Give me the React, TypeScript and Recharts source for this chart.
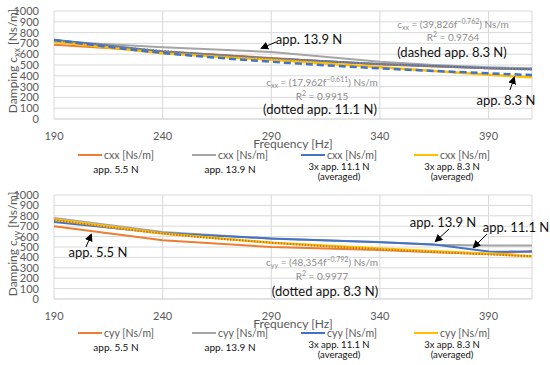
import { CartesianGrid, Line, LineChart, XAxis, YAxis } from "recharts";

const freq = [190, 240, 290, 340, 365, 390, 410];

// c_xx [Ns/m]
const cxx55 = [688, 625, 565, 505, 485, 470, 462];
const cxx139 = [720, 665, 620, 530, 500, 480, 470];
const cxx111 = [735, 625, 560, 510, 490, 470, 460];
const cxx83 = [715, 608, 548, 480, 445, 410, 386];
const cxxFit111 = [728, 631, 562, 510, 488, 469, 457];
const cxxFit83 = [731, 612, 530, 469, 445, 423, 407];

// c_yy [Ns/m]
const cyy55 = [700, 565, 500, 470, 450, 432, 462];
const cyy139 = [780, 645, 580, 548, 522, 515, 515];
const cyy111 = [740, 635, 582, 545, 524, 456, 455];
const cyy83 = [765, 630, 540, 485, 458, 435, 410];
const cyyFit83 = [758, 630, 542, 478, 452, 429, 412];

const xTicks = [190, 240, 290, 340, 390];
const yTicks = [0, 100, 200, 300, 400, 500, 600, 700, 800, 900, 1000];

const ORANGE = "#ED7D31";
const GREY = "#A5A5A5";
const BLUE = "#4472C4";
const YELLOW = "#FFC000";
const FONT = "Lato, 'Liberation Sans', sans-serif";
const AXIS_TEXT = "#595959";

const topRows = freq.map((f, i) => ({
  f,
  o: cxx55[i],
  g: cxx139[i],
  b: cxx111[i],
  y: cxx83[i],
  dot: cxxFit111[i],
  dash: cxxFit83[i],
}));

const bottomRows = freq.map((f, i) => ({
  f,
  o: cyy55[i],
  g: cyy139[i],
  b: cyy111[i],
  y: cyy83[i],
  dot: cyyFit83[i],
}));

const legendEntries = [
  { color: ORANGE, sub: ["app. 5.5 N"] },
  { color: GREY, sub: ["app. 13.9 N"] },
  { color: BLUE, sub: ["3x app. 11.1 N", "(averaged)"] },
  { color: YELLOW, sub: ["3x app. 8.3 N", "(averaged)"] },
];
const legendLefts = [60, 174, 283, 396];

function Legend({ top, name }: { top: number; name: string }) {
  return (
    <>
      {legendEntries.map((entry, i) => (
        <div
          key={i}
          style={{
            position: "absolute",
            left: legendLefts[i],
            top,
            width: 112,
            display: "flex",
            flexDirection: "column",
            alignItems: "center",
            fontFamily: FONT,
          }}
        >
          <div style={{ display: "flex", alignItems: "center", height: 12 }}>
            <div style={{ width: 24, height: 2, background: entry.color, marginRight: 2 }} />
            <span style={{ fontSize: 10.5, color: AXIS_TEXT, whiteSpace: "nowrap" }}>{name} [Ns/m]</span>
          </div>
          <div
            style={{
              marginTop: entry.sub.length > 1 ? 1 : 2,
              fontSize: entry.sub.length > 1 ? 9.5 : 10,
              lineHeight: entry.sub.length > 1 ? "9.5px" : "12px",
              color: "#111",
              textAlign: "center",
              whiteSpace: "nowrap",
            }}
          >
            {entry.sub.map((s) => (
              <div key={s}>{s}</div>
            ))}
          </div>
        </div>
      ))}
    </>
  );
}

function Axes() {
  return (
    <>
      <CartesianGrid stroke="#d9d9d9" strokeWidth={1} />
      <XAxis
        dataKey="f"
        type="number"
        domain={[190, 410]}
        ticks={xTicks}
        tick={{ fontSize: 11, fill: AXIS_TEXT, fontFamily: FONT }}
        tickLine={false}
        axisLine={{ stroke: "#d9d9d9" }}
        tickMargin={7}
        height={31}
      />
      <YAxis
        domain={[0, 1000]}
        ticks={yTicks}
        interval={0}
        width={54}
        tick={{ fontSize: 11, fill: AXIS_TEXT, fontFamily: FONT }}
        tickLine={false}
        axisLine={false}
        tickMargin={9}
      />
    </>
  );
}

function Arrow({ x1, y1, x2, y2 }: { x1: number; y1: number; x2: number; y2: number }) {
  return <line x1={x1} y1={y1} x2={x2} y2={y2} stroke="#000" strokeWidth={1} markerEnd="url(#arrowHead)" />;
}

const eqStyle = { fontSize: 10, fill: "#8c8c8c", fontFamily: FONT } as const;
const noteStyle = { fontSize: 13, fill: "#111", fontFamily: FONT } as const;
const titleStyle = { fontSize: 12, fill: AXIS_TEXT, fontFamily: FONT } as const;

export default function App() {
  return (
    <div style={{ position: "absolute", left: 0, top: 0, width: 550, height: 365, background: "#fff" }}>
      <div style={{ position: "absolute", left: 0, top: 0 }}>
        <LineChart width={550} height={150} data={topRows} margin={{ top: 11, right: 18, bottom: 0, left: 0 }}>
          {Axes()}
          <Line dataKey="o" stroke={ORANGE} strokeWidth={2} dot={false} isAnimationActive={false} />
          <Line dataKey="g" stroke={GREY} strokeWidth={2} dot={false} isAnimationActive={false} />
          <Line dataKey="b" stroke={BLUE} strokeWidth={2} dot={false} isAnimationActive={false} />
          <Line dataKey="y" stroke={YELLOW} strokeWidth={2.5} dot={false} isAnimationActive={false} />
          <Line type="monotone" dataKey="dot" stroke="#9a8466" strokeWidth={2} strokeDasharray="1.5 1.5" dot={false} isAnimationActive={false} />
          <Line type="monotone" dataKey="dash" stroke={BLUE} strokeWidth={2.5} strokeDasharray="7 4" dot={false} isAnimationActive={false} />
        </LineChart>
      </div>
      <div style={{ position: "absolute", left: 0, top: 180 }}>
        <LineChart width={550} height={150} data={bottomRows} margin={{ top: 15, right: 18, bottom: 0, left: 0 }}>
          {Axes()}
          <Line dataKey="o" stroke={ORANGE} strokeWidth={2} dot={false} isAnimationActive={false} />
          <Line dataKey="g" stroke={GREY} strokeWidth={2} dot={false} isAnimationActive={false} />
          <Line dataKey="b" stroke={BLUE} strokeWidth={2} dot={false} isAnimationActive={false} />
          <Line dataKey="y" stroke={YELLOW} strokeWidth={2.5} dot={false} isAnimationActive={false} />
          <Line type="monotone" dataKey="dot" stroke="#c0782a" strokeWidth={2} strokeDasharray="1.5 1.5" dot={false} isAnimationActive={false} />
        </LineChart>
      </div>

      <Legend top={149} name="cxx" />
      <Legend top={327} name="cyy" />

      <svg width={550} height={365} style={{ position: "absolute", left: 0, top: 0, pointerEvents: "none" }}>
        <defs>
          <marker id="arrowHead" markerWidth="8" markerHeight="8" refX="6" refY="4" orient="auto" markerUnits="userSpaceOnUse">
            <path d="M0,0 L8,4 L0,8 z" fill="#000" />
          </marker>
        </defs>

        {/* axis titles */}
        <text x={293} y={148} textAnchor="middle" style={titleStyle}>Frequency [Hz]</text>
        <text x={293} y={328} textAnchor="middle" style={titleStyle}>Frequency [Hz]</text>
        <text transform="translate(17,61) rotate(-90)" textAnchor="middle" style={titleStyle}>
          Damping c<tspan fontSize={9} dy={3}>xx</tspan>
          <tspan dy={-3}> [Ns/m]</tspan>
        </text>
        <text transform="translate(17,244) rotate(-90)" textAnchor="middle" style={titleStyle}>
          Damping c<tspan fontSize={9} dy={3}>yy</tspan>
          <tspan dy={-3}> [Ns/m]</tspan>
        </text>

        {/* top annotations */}
        <text x={309} y={44} textAnchor="middle" style={noteStyle}>app. 13.9 N</text>
        <Arrow x1={276} y1={42} x2={262} y2={48} />
        <text x={453} y={28} textAnchor="middle" style={eqStyle}>
          c<tspan fontSize={7} dy={2}>xx</tspan>
          <tspan dy={-2}> = (39,826f</tspan>
          <tspan fontSize={7} dy={-4}>−0.762</tspan>
          <tspan dy={4}>) Ns/m</tspan>
        </text>
        <text x={453} y={41} textAnchor="middle" style={eqStyle}>
          R<tspan fontSize={7} dy={-4}>2</tspan>
          <tspan dy={4}> = 0.9764</tspan>
        </text>
        <text x={452} y={57} textAnchor="middle" style={noteStyle}>(dashed app. 8.3 N)</text>
        <text x={322} y={86} textAnchor="middle" style={eqStyle}>
          c<tspan fontSize={7} dy={2}>xx</tspan>
          <tspan dy={-2}> = (17,962f</tspan>
          <tspan fontSize={7} dy={-4}>−0.611</tspan>
          <tspan dy={4}>) Ns/m</tspan>
        </text>
        <text x={322} y={100} textAnchor="middle" style={eqStyle}>
          R<tspan fontSize={7} dy={-4}>2</tspan>
          <tspan dy={4}> = 0.9915</tspan>
        </text>
        <text x={320} y={114} textAnchor="middle" style={noteStyle}>(dotted app. 11.1 N)</text>
        <text x={506} y={105} textAnchor="middle" style={noteStyle}>app. 8.3 N</text>
        <Arrow x1={510} y1={90} x2={514} y2={78} />

        {/* bottom annotations */}
        <text x={98} y={257} textAnchor="middle" style={noteStyle}>app. 5.5 N</text>
        <Arrow x1={86} y1={247} x2={91} y2={235} />
        <text x={443} y={227} textAnchor="middle" style={noteStyle}>app. 13.9 N</text>
        <Arrow x1={449} y1={229} x2={436} y2={241} />
        <text x={516} y={232} textAnchor="middle" style={noteStyle}>app. 11.1 N</text>
        <Arrow x1={487} y1={234} x2={474} y2={247} />
        <text x={322} y={266} textAnchor="middle" style={eqStyle}>
          c<tspan fontSize={7} dy={2}>yy</tspan>
          <tspan dy={-2}> = (48,354f</tspan>
          <tspan fontSize={7} dy={-4}>−0.792</tspan>
          <tspan dy={4}>) Ns/m</tspan>
        </text>
        <text x={322} y={280} textAnchor="middle" style={eqStyle}>
          R<tspan fontSize={7} dy={-4}>2</tspan>
          <tspan dy={4}> = 0.9977</tspan>
        </text>
        <text x={325} y={296} textAnchor="middle" style={noteStyle}>(dotted app. 8.3 N)</text>
      </svg>
    </div>
  );
}
